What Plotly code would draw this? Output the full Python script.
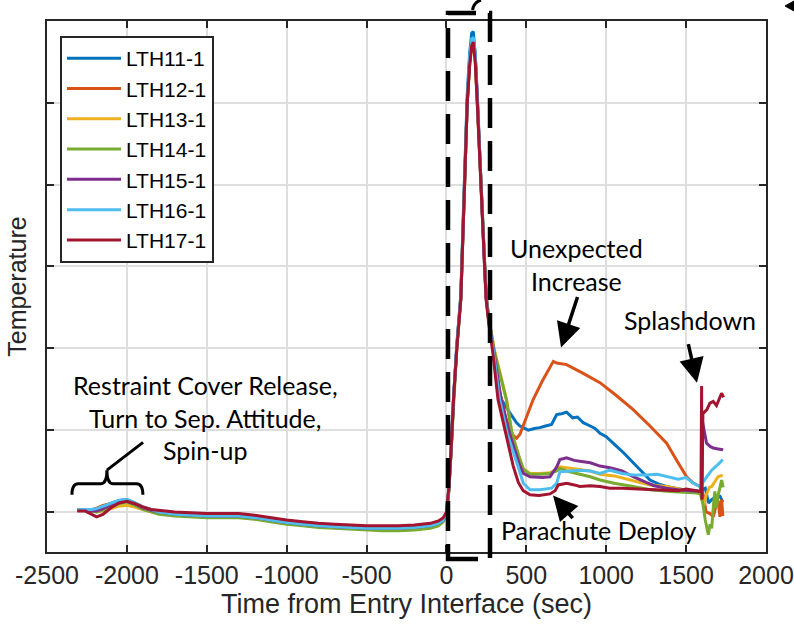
import plotly.graph_objects as go

# ---------------- data ----------------
SERIES = ["LTH11-1", "LTH12-1", "LTH13-1", "LTH14-1", "LTH15-1", "LTH16-1", "LTH17-1"]
COLORS = ["#0072BD", "#D95319", "#EDB120", "#77AC30", "#7E2F8E", "#4DBEEE", "#A2142F"]

# shared time base: pre-entry + heating pulse
T_PRE = [-2310, -2260, -2220, -2190, -2150, -2100, -2050, -2000, -1950, -1900, -1850, -1800,
         -1700, -1600, -1500, -1400, -1300, -1200, -1100, -1000, -900, -800, -700, -600, -500,
         -400, -300, -200, -100, -50, -20, 0, 15, 30, 45, 65, 90, 105, 118, 130, 145, 158, 168,
         180, 193, 205, 220, 235, 248]

Y_PRE_11 = [0.02, 0.02, 0.03, 0.04, 0.07, 0.11, 0.14, 0.15, 0.11, 0.06, 0.03, 0.0, -0.03, -0.04,
            -0.05, -0.05, -0.05, -0.07, -0.10, -0.13, -0.15, -0.17, -0.18, -0.19, -0.20, -0.20,
            -0.20, -0.19, -0.17, -0.14, -0.10, -0.02, 0.28, 0.80, 1.42, 2.05, 2.65, 3.60, 4.50,
            5.10, 5.60, 5.85, 5.87, 5.60, 5.05, 4.50, 3.80, 3.15, 2.65]
Y_PRE_12 = [0.03, 0.03, 0.02, 0.05, 0.08, 0.10, 0.12, 0.13, 0.10, 0.05, 0.02, 0.0, -0.03, -0.04,
            -0.05, -0.05, -0.05, -0.07, -0.10, -0.13, -0.15, -0.17, -0.18, -0.19, -0.20, -0.20,
            -0.20, -0.19, -0.17, -0.14, -0.10, -0.02, 0.28, 0.78, 1.40, 2.02, 2.62, 3.50, 4.40,
            5.00, 5.50, 5.75, 5.78, 5.55, 5.00, 4.45, 3.78, 3.12, 2.62]
Y_PRE_13 = [0.03, 0.03, 0.02, 0.0, 0.01, 0.04, 0.07, 0.08, 0.06, 0.03, 0.0, -0.02, -0.04, -0.05,
            -0.06, -0.06, -0.06, -0.08, -0.11, -0.14, -0.16, -0.18, -0.19, -0.20, -0.21, -0.21,
            -0.21, -0.20, -0.18, -0.15, -0.11, -0.03, 0.26, 0.76, 1.38, 2.00, 2.60, 3.50, 4.40,
            5.00, 5.45, 5.70, 5.75, 5.55, 5.02, 4.46, 3.80, 3.15, 2.66]
Y_PRE_14 = [0.02, 0.02, 0.01, 0.0, 0.02, 0.06, 0.10, 0.12, 0.08, 0.03, 0.0, -0.03, -0.05, -0.06,
            -0.07, -0.07, -0.07, -0.09, -0.12, -0.15, -0.17, -0.19, -0.20, -0.21, -0.22, -0.23,
            -0.23, -0.22, -0.20, -0.17, -0.12, -0.04, 0.25, 0.75, 1.37, 2.00, 2.60, 3.50, 4.40,
            5.00, 5.50, 5.72, 5.76, 5.55, 5.02, 4.46, 3.80, 3.15, 2.66]
Y_PRE_15 = [0.02, 0.02, 0.01, 0.01, 0.04, 0.09, 0.12, 0.13, 0.10, 0.05, 0.02, 0.0, -0.03, -0.04,
            -0.05, -0.05, -0.05, -0.07, -0.10, -0.13, -0.15, -0.17, -0.18, -0.19, -0.20, -0.20,
            -0.20, -0.19, -0.17, -0.14, -0.10, -0.02, 0.27, 0.78, 1.40, 2.02, 2.62, 3.50, 4.40,
            5.00, 5.50, 5.72, 5.76, 5.60, 5.10, 4.50, 3.80, 3.15, 2.64]
Y_PRE_16 = [0.03, 0.03, 0.03, 0.04, 0.07, 0.11, 0.14, 0.15, 0.11, 0.06, 0.03, 0.0, -0.03, -0.04,
            -0.05, -0.05, -0.05, -0.07, -0.10, -0.13, -0.15, -0.17, -0.18, -0.19, -0.20, -0.20,
            -0.20, -0.19, -0.17, -0.14, -0.10, -0.02, 0.28, 0.80, 1.42, 2.04, 2.64, 3.55, 4.45,
            5.05, 5.55, 5.78, 5.80, 5.60, 5.05, 4.48, 3.80, 3.14, 2.63]
Y_PRE_17 = [0.01, 0.01, -0.03, -0.06, -0.03, 0.05, 0.11, 0.13, 0.10, 0.06, 0.03, 0.02, 0.0, -0.01,
            -0.02, -0.02, -0.02, -0.04, -0.07, -0.10, -0.12, -0.14, -0.15, -0.16, -0.17, -0.17,
            -0.17, -0.16, -0.14, -0.11, -0.07, 0.0, 0.30, 0.80, 1.40, 2.00, 2.60, 3.50, 4.40,
            5.00, 5.45, 5.70, 5.74, 5.50, 5.00, 4.44, 3.75, 3.10, 2.60]

# post-peak (descent, parachute, splashdown) per sensor
T_POST_11 = [265, 295, 314, 345, 397, 439, 460, 512, 550, 585, 620, 658, 690, 720, 752, 790, 820,
             856, 900, 930, 961, 1000, 1065, 1110, 1169, 1220, 1274, 1330, 1378, 1482, 1540, 1587,
             1600, 1620, 1640, 1660, 1690, 1712, 1730]
Y_POST_11 = [2.38, 2.00, 1.60, 1.37, 1.21, 1.09, 1.05, 1.00, 1.02, 1.03, 1.05, 1.07, 1.19, 1.20,
             1.22, 1.15, 1.16, 1.09, 1.05, 1.02, 0.96, 0.92, 0.80, 0.72, 0.60, 0.50, 0.39, 0.34,
             0.31, 0.27, 0.26, 0.25, 0.27, 0.29, 0.11, 0.15, 0.19, 0.19, 0.12]

T_POST_12 = [265, 295, 330, 370, 400, 420, 439, 460, 500, 542, 600, 650, 669, 690, 752, 850, 961,
             1065, 1169, 1274, 1378, 1450, 1503, 1540, 1587, 1600, 1610, 1625, 1649, 1670, 1690,
             1700, 1712, 1722, 1730]
Y_POST_12 = [2.34, 1.97, 1.50, 1.15, 1.00, 0.93, 0.90, 0.95, 1.15, 1.37, 1.60, 1.78, 1.84, 1.82,
             1.80, 1.70, 1.58, 1.42, 1.25, 1.05, 0.84, 0.60, 0.43, 0.36, 0.31, 0.25, 0.19, 0.00,
             -0.02, -0.06, 0.10, 0.14, -0.06, 0.15, -0.05]

T_POST_13 = [265, 300, 377, 410, 450, 481, 523, 585, 648, 690, 710, 752, 835, 900, 961, 1050,
             1169, 1274, 1378, 1480, 1587, 1600, 1610, 1625, 1645, 1660, 1680, 1700, 1729]
Y_POST_13 = [2.36, 1.98, 1.37, 0.96, 0.70, 0.53, 0.47, 0.47, 0.48, 0.52, 0.55, 0.54, 0.52, 0.50,
             0.46, 0.44, 0.38, 0.33, 0.31, 0.27, 0.24, 0.15, 0.07, 0.20, 0.30, 0.31, 0.37, 0.43,
             0.45]

T_POST_14 = [265, 300, 375, 410, 450, 481, 523, 585, 648, 690, 710, 752, 835, 900, 961, 1050,
             1169, 1274, 1400, 1500, 1566, 1590, 1605, 1620, 1639, 1650, 1660, 1672, 1680, 1690,
             1700, 1712, 1722, 1732]
Y_POST_14 = [2.35, 1.96, 1.37, 0.96, 0.70, 0.52, 0.46, 0.46, 0.47, 0.50, 0.53, 0.50, 0.46, 0.43,
             0.39, 0.35, 0.31, 0.27, 0.25, 0.24, 0.23, 0.22, 0.10, -0.10, -0.28, -0.15, -0.20,
             0.10, 0.25, 0.05, 0.20, 0.30, 0.39, 0.30]

T_POST_15 = [265, 295, 340, 395, 460, 481, 523, 600, 648, 690, 710, 752, 800, 835, 900, 961,
             1023, 1100, 1169, 1250, 1300, 1378, 1450, 1520, 1590, 1598, 1603, 1615, 1628, 1650,
             1670, 1700, 1732]
Y_POST_15 = [2.33, 1.98, 1.40, 0.96, 0.56, 0.47, 0.43, 0.42, 0.43, 0.55, 0.64, 0.66, 0.63, 0.62,
             0.60, 0.56, 0.54, 0.50, 0.43, 0.36, 0.32, 0.29, 0.27, 0.26, 0.25, 0.25, 1.10, 0.95,
             0.84, 0.80, 0.78, 0.77, 0.76]

T_POST_16 = [265, 295, 330, 380, 447, 481, 523, 585, 658, 690, 710, 760, 835, 900, 961, 1023,
             1100, 1169, 1250, 1320, 1378, 1450, 1500, 1545, 1587, 1600, 1615, 1630, 1660, 1691,
             1710, 1729]
Y_POST_16 = [2.32, 1.95, 1.40, 0.96, 0.56, 0.35, 0.27, 0.27, 0.29, 0.35, 0.49, 0.50, 0.51, 0.50,
             0.47, 0.51, 0.47, 0.45, 0.45, 0.46, 0.43, 0.40, 0.42, 0.35, 0.31, 0.35, 0.38, 0.43,
             0.51, 0.56, 0.60, 0.64]

T_POST_17 = [265, 290, 323, 373, 418, 450, 480, 523, 580, 648, 680, 700, 752, 800, 835, 900, 961,
             1023, 1100, 1200, 1300, 1378, 1450, 1500, 1550, 1593, 1597, 1599, 1605, 1630, 1649,
             1670, 1690, 1712, 1722, 1735]
Y_POST_17 = [2.30, 1.95, 1.37, 0.96, 0.56, 0.36, 0.26, 0.21, 0.20, 0.22, 0.26, 0.33, 0.35, 0.33,
             0.31, 0.32, 0.31, 0.29, 0.29, 0.28, 0.27, 0.27, 0.26, 0.28, 0.26, 0.25, 1.54, 0.15,
             1.20, 1.25, 1.33, 1.35, 1.30, 1.41, 1.45, 1.40]

Y_PRE = [Y_PRE_11, Y_PRE_12, Y_PRE_13, Y_PRE_14, Y_PRE_15, Y_PRE_16, Y_PRE_17]
T_POST = [T_POST_11, T_POST_12, T_POST_13, T_POST_14, T_POST_15, T_POST_16, T_POST_17]
Y_POST = [Y_POST_11, Y_POST_12, Y_POST_13, Y_POST_14, Y_POST_15, Y_POST_16, Y_POST_17]

X_TICKS = [-2500, -2000, -1500, -1000, -500, 0, 500, 1000, 1500, 2000]
X_TICK_LABELS = ["-2500", "-2000", "-1500", "-1000", "-500", "0", "500", "1000", "1500", "2000"]
Y_TICKS = [0, 1, 2, 3, 4, 5, 6]

# ---------------- figure ----------------
W, H = 794, 630
ML, MR, MT, MB = 47, 28, 21, 78
X_RANGE = [-2500, 2000]
Y_RANGE = [-0.49, 6.0]
INK = "#262626"

fig = go.Figure()
for name, col, yp, tp, ypost in zip(SERIES, COLORS, Y_PRE, T_POST, Y_POST):
    fig.add_trace(go.Scatter(x=T_PRE + tp, y=yp + ypost, mode="lines", name=name,
                             line=dict(color=col, width=3)))


def paper_x(px):
    return (px - ML) / (W - ML - MR)


def paper_y(py):
    return (H - MB - py) / (H - MT - MB)


shapes = []
# dashed box around entry heating pulse
shapes.append(dict(type="rect", xref="paper", yref="paper",
                   x0=paper_x(448), x1=paper_x(490), y0=paper_y(559), y1=paper_y(13),
                   line=dict(color="black", width=4.5, dash="30px,13px")))
# small arc above the box (cropped callout)
shapes.append(dict(type="path", xref="paper", yref="paper",
                   path=f"M {paper_x(472.5)},{paper_y(10)} Q {paper_x(474)},{paper_y(2)} {paper_x(481)},{paper_y(0)}",
                   line=dict(color="black", width=3)))
# small cropped arrowhead in the top-right corner
shapes.append(dict(type="path", xref="paper", yref="paper",
                   path=(f"M {paper_x(785)},{paper_y(6)} L {paper_x(794)},{paper_y(1)} "
                         f"L {paper_x(794)},{paper_y(11)} Z"),
                   fillcolor="black", line=dict(color="black", width=1)))
# curly brace over the early manoeuvres
bx1, bx2, btip = -2344, -1900, -2125
yb_end, yb_bar, yb_tip = 0.21, 0.345, 0.51
dx = 40
brace = (f"M {bx1},{yb_end} Q {bx1},{yb_bar} {bx1+dx},{yb_bar} L {btip-dx},{yb_bar} "
         f"Q {btip},{yb_bar} {btip},{yb_tip} Q {btip},{yb_bar} {btip+dx},{yb_bar} "
         f"L {bx2-dx},{yb_bar} Q {bx2},{yb_bar} {bx2},{yb_end}")
shapes.append(dict(type="path", xref="x", yref="y", path=brace,
                   line=dict(color="black", width=3)))
shapes.append(dict(type="line", xref="x", yref="y", x0=btip, y0=yb_tip, x1=-1899, y1=0.85,
                   line=dict(color="black", width=3)))

ANN_FONT = dict(family="Lato", size=25, color="black")
ARROW = dict(text="", showarrow=True, arrowhead=2, arrowsize=1.4, arrowwidth=3.5,
             arrowcolor="black")
annotations = [
    dict(x=-1511, y=1.16, text="Restraint Cover Release,<br>Turn to Sep. Attitude,<br>Spin-up",
         showarrow=False, font=ANN_FONT, align="center"),
    dict(x=817, y=3.03, text="Unexpected<br>Increase", showarrow=False, font=ANN_FONT,
         align="center"),
    dict(x=1524, y=2.35, text="Splashdown", showarrow=False, font=ANN_FONT),
    dict(x=954, y=-0.22, text="Parachute Deploy", showarrow=False, font=ANN_FONT),
    # arrows
    dict(x=717, y=2.01, ax=17, ay=-52, **ARROW),
    dict(x=1568, y=1.58, ax=-9, ay=-40, **ARROW),
    dict(x=667, y=0.20, ax=21, ay=24, **ARROW),
]

axis_common = dict(showline=True, linecolor=INK, linewidth=2, mirror="ticks", ticks="inside",
                   ticklen=7, tickwidth=2, tickcolor=INK, showgrid=True, gridcolor="#dedede",
                   gridwidth=1.5, zeroline=False, automargin=False)

fig.update_layout(
    width=W, height=H, autosize=False,
    margin=dict(l=ML, r=MR, t=MT, b=MB, pad=0, autoexpand=False),
    paper_bgcolor="white", plot_bgcolor="white",
    font=dict(family="Liberation Sans, Arial, sans-serif", color=INK),
    xaxis=dict(range=X_RANGE, tickvals=X_TICKS, ticktext=X_TICK_LABELS,
               tickfont=dict(size=25, color=INK),
               title=dict(text="Time from Entry Interface (sec)", font=dict(size=27, color=INK),
                          standoff=4),
               **axis_common),
    yaxis=dict(range=Y_RANGE, tickvals=Y_TICKS, showticklabels=False,
               title=dict(text="Temperature", font=dict(size=25, color=INK), standoff=11),
               **axis_common),
    legend=dict(x=paper_x(60), y=paper_y(36), xanchor="left", yanchor="top",
                bgcolor="white", bordercolor=INK, borderwidth=2,
                font=dict(size=21, color="black"), itemwidth=54, tracegroupgap=0),
    shapes=shapes,
    annotations=annotations,
    showlegend=True,
)

fig.write_html("out.html", config={"responsive": False})
